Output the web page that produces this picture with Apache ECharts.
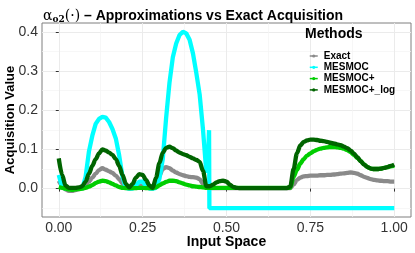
<!DOCTYPE html>
<html><head><meta charset="utf-8">
<script src="https://cdn.jsdelivr.net/npm/echarts@6/dist/echarts.min.js"></script>
<style>html,body{margin:0;padding:0;background:#fff}#c{width:415px;height:253px}</style>
</head><body><div id="c"></div>
<script>
const methods = ['Exact', 'MESMOC', 'MESMOC+', 'MESMOC+_log'];
const xTickValues = [0, 0.25, 0.5, 0.75, 1];
const xMinorValues = [0.125, 0.375, 0.625, 0.875];
const yTickValues = [0, 0.1, 0.2, 0.3, 0.4];
const yMinorValues = [-0.05, 0.05, 0.15, 0.25, 0.35];

const xGrid = [0.00,0.01,0.02,0.03,0.04,0.05,0.06,0.07,0.08,0.09,
0.10,0.11,0.12,0.13,0.14,0.15,0.16,0.17,0.18,0.19,
0.20,0.21,0.22,0.23,0.24,0.25,0.26,0.27,0.28,0.29,
0.30,0.31,0.32,0.33,0.34,0.35,0.36,0.37,0.38,0.39,
0.40,0.41,0.42,0.43,0.44,0.45,0.46,0.47,0.48,0.49,
0.50,0.51,0.52,0.53,0.54,0.55,0.56,0.57,0.58,0.59,
0.60,0.61,0.62,0.63,0.64,0.65,0.66,0.67,0.68,0.69,
0.70,0.71,0.72,0.73,0.74,0.75,0.76,0.77,0.78,0.79,
0.80,0.81,0.82,0.83,0.84,0.85,0.86,0.87,0.88,0.89,
0.90,0.91,0.92,0.93,0.94,0.95,0.96,0.97,0.98,0.99,1.00];

const exactValues = [0.02,0.008,-0.002,-0.006,-0.006,-0.004,-0.001,0.003,0.009,0.018,
0.028,0.038,0.047,0.052,0.048,0.044,0.04,0.033,0.024,0.013,
0.003,0.0,0.002,0.005,0.008,0.007,0.004,0.001,0.0,0.012,
0.033,0.05,0.055,0.052,0.046,0.041,0.037,0.034,0.032,0.03,
0.029,0.028,0.024,0.012,0.003,0.001,0.001,0.001,0.001,0.001,
0.001,0.001,0.001,0.001,0.001,0.001,0.001,0.001,0.001,0.001,
0.001,0.001,0.001,0.001,0.001,0.001,0.001,0.001,0.001,0.001,
0.01,0.022,0.028,0.031,0.032,0.033,0.033,0.033,0.034,0.034,
0.035,0.035,0.036,0.037,0.038,0.039,0.04,0.041,0.04,0.038,
0.034,0.03,0.027,0.024,0.022,0.021,0.02,0.019,0.019,0.018,0.018];

const mesmocX = [0.00,0.01,0.02,0.03,0.04,0.05,0.06,0.07,0.08,0.09,
0.10,0.11,0.12,0.13,0.14,0.15,0.16,0.17,0.18,0.19,
0.20,0.21,0.22,0.23,0.24,0.25,0.26,0.27,0.28,0.29,
0.30,0.31,0.32,0.33,0.34,0.35,0.36,0.37,0.38,0.39,
0.40,0.41,0.42,0.43,0.44,0.445,0.448,0.449,0.46,0.55,0.65,0.75,0.85,0.95,1.00];
const mesmocValues = [0.035,0.003,0.0,0.0,0.0,0.0,0.0,0.0,0.03,0.095,
0.135,0.165,0.178,0.183,0.181,0.17,0.152,0.128,0.085,0.03,
0.002,0.0,0.0,0.008,0.018,0.018,0.006,0.0,0.0,0.002,
0.025,0.075,0.18,0.27,0.335,0.37,0.392,0.4,0.396,0.38,
0.345,0.295,0.24,0.15,0.04,0.08,0.149,-0.05,-0.05,-0.05,-0.05,-0.05,-0.05,-0.05,-0.05];

const mesmocPlusValues = [0.004,0.002,0.0,-0.002,-0.003,-0.002,-0.001,0.0,0.002,0.005,
0.009,0.014,0.018,0.02,0.019,0.016,0.012,0.008,0.004,0.002,
0.001,0.001,0.001,0.001,0.002,0.002,0.001,0.001,0.001,0.003,
0.008,0.013,0.017,0.02,0.02,0.019,0.016,0.013,0.01,0.008,
0.006,0.005,0.004,0.003,0.002,0.002,0.002,0.002,0.002,0.002,
0.002,0.002,0.002,0.002,0.002,0.002,0.002,0.002,0.002,0.002,
0.002,0.002,0.002,0.002,0.002,0.002,0.002,0.002,0.002,0.002,
0.03,0.048,0.064,0.075,0.084,0.09,0.095,0.099,0.102,0.104,
0.105,0.106,0.106,0.105,0.104,0.102,0.098,0.093,0.086,0.078,
0.07,0.062,0.055,0.051,0.05,0.05,0.051,0.053,0.055,0.057,0.058];

const mesmocPlusLogValues = [0.077,0.035,0.008,0.002,0.002,0.002,0.003,0.006,0.018,0.038,
0.058,0.075,0.09,0.10,0.097,0.092,0.086,0.075,0.058,0.035,
0.012,0.003,0.012,0.028,0.037,0.035,0.022,0.008,0.002,0.028,
0.065,0.092,0.104,0.107,0.103,0.097,0.092,0.088,0.085,0.081,
0.077,0.073,0.068,0.045,0.006,0.006,0.01,0.016,0.019,0.02,
0.018,0.01,0.004,0.002,0.001,0.001,0.001,0.001,0.001,0.001,
0.001,0.001,0.001,0.001,0.001,0.001,0.001,0.001,0.001,0.005,
0.05,0.09,0.11,0.119,0.123,0.125,0.125,0.124,0.122,0.121,
0.119,0.117,0.115,0.113,0.111,0.107,0.103,0.097,0.089,0.08,
0.07,0.061,0.055,0.051,0.05,0.05,0.051,0.053,0.055,0.058,0.061];

const colors = ['#8a8a8a', '#00ffff', '#00cd00', '#006400'];

function pairs(xs, ys) { return xs.map((x, i) => [x, ys[i]]); }

const chart = echarts.init(document.getElementById('c'), null, {renderer: 'canvas'});
const xRange = {min: -0.05, max: 1.05};
const yRange = {min: -0.0725, max: 0.4225};

function mkSeries(name, data, color, z, smooth) {
  return {
    name, type: 'line', data, xAxisIndex: 0, yAxisIndex: 0,
    symbol: 'circle', symbolSize: 3, showSymbol: false,
    smooth: smooth, smoothMonotone: 'x',
    lineStyle: {color, width: 4.3}, itemStyle: {color},
    z, animation: false
  };
}

chart.setOption({
  animation: false,
  backgroundColor: '#ffffff',
  title: {
    left: 38, top: 3,
    text: '{a|α}{s|o2}{a|(·)}{b| – Approximations vs Exact Acquisition}',
    textStyle: {
      rich: {
        a: {fontFamily: 'DejaVu Serif', fontSize: 14, color: '#000', fontWeight: 'normal'},
        s: {fontFamily: 'DejaVu Serif', fontSize: 9, color: '#000', padding: [7, 0, 0, 0]},
        b: {fontFamily: 'Liberation Sans', fontSize: 14, fontWeight: 'bold', color: '#000'}
      }
    }
  },
  grid: {left: 42, right: 4, top: 23, bottom: 36, containLabel: false, outerBoundsMode: 'none',
    show: true, borderColor: '#7f7f7f', borderWidth: 1, backgroundColor: '#fff'},
  legend: {
    data: methods, orient: 'vertical', left: 304, top: 46,
    itemWidth: 8, itemHeight: 4, itemGap: 1.3,
    lineStyle: {width: 1.5},
    textStyle: {fontFamily: 'Liberation Sans', fontSize: 10, fontWeight: 'bold', color: '#000', lineHeight: 10, padding: [0, 0, 0, 1]}
  },
  graphic: [{
    type: 'text', left: 305, top: 27, z: 100,
    style: {text: 'Methods', fontFamily: 'Liberation Sans', fontSize: 14, fontWeight: 'bold', fill: '#000'}
  }],
  xAxis: [{
    type: 'value', ...xRange, name: 'Input Space', nameLocation: 'middle', nameGap: 18, nameMoveOverlap: false,
    nameTextStyle: {fontFamily: 'Liberation Sans', fontSize: 14, fontWeight: 'bold', color: '#000'},
    axisLine: {show: false},
    axisTick: {show: true, length: 3, lineStyle: {color: '#333'}, customValues: xTickValues},
    axisLabel: {customValues: xTickValues, formatter: v => v.toFixed(2), fontFamily: 'Liberation Sans', fontSize: 14, color: '#333', margin: 4},
    splitLine: {show: true, lineStyle: {color: '#ebebeb', width: 1}}
  }, {
    type: 'value', ...xRange, gridIndex: 0, position: 'bottom',
    axisLine: {show: false}, axisTick: {show: false, customValues: xMinorValues},
    axisLabel: {show: false, customValues: xMinorValues},
    splitLine: {show: true, lineStyle: {color: '#f4f4f4', width: 0.7}}
  }],
  yAxis: [{
    type: 'value', ...yRange, name: 'Acquisition Value', nameLocation: 'middle', nameGap: 25, nameMoveOverlap: false,
    nameTextStyle: {fontFamily: 'Liberation Sans', fontSize: 13, fontWeight: 'bold', color: '#000'},
    axisLine: {show: false},
    axisTick: {show: true, length: 3, lineStyle: {color: '#333'}, customValues: yTickValues},
    axisLabel: {customValues: yTickValues, formatter: v => v.toFixed(1), fontFamily: 'Liberation Sans', fontSize: 14, color: '#333', margin: 4},
    splitLine: {show: true, lineStyle: {color: '#ebebeb', width: 1}}
  }, {
    type: 'value', ...yRange, gridIndex: 0, position: 'left',
    axisLine: {show: false}, axisTick: {show: false, customValues: yMinorValues},
    axisLabel: {show: false, customValues: yMinorValues},
    splitLine: {show: true, lineStyle: {color: '#f4f4f4', width: 0.7}}
  }],
  series: [
    mkSeries('Exact', pairs(xGrid, exactValues), colors[0], 2, 0.3),
    mkSeries('MESMOC', pairs(mesmocX, mesmocValues), colors[1], 3, false),
    mkSeries('MESMOC+', pairs(xGrid, mesmocPlusValues), colors[2], 4, 0.3),
    mkSeries('MESMOC+_log', pairs(xGrid, mesmocPlusLogValues), colors[3], 5, 0.3)
  ]
});
</script></body></html>
